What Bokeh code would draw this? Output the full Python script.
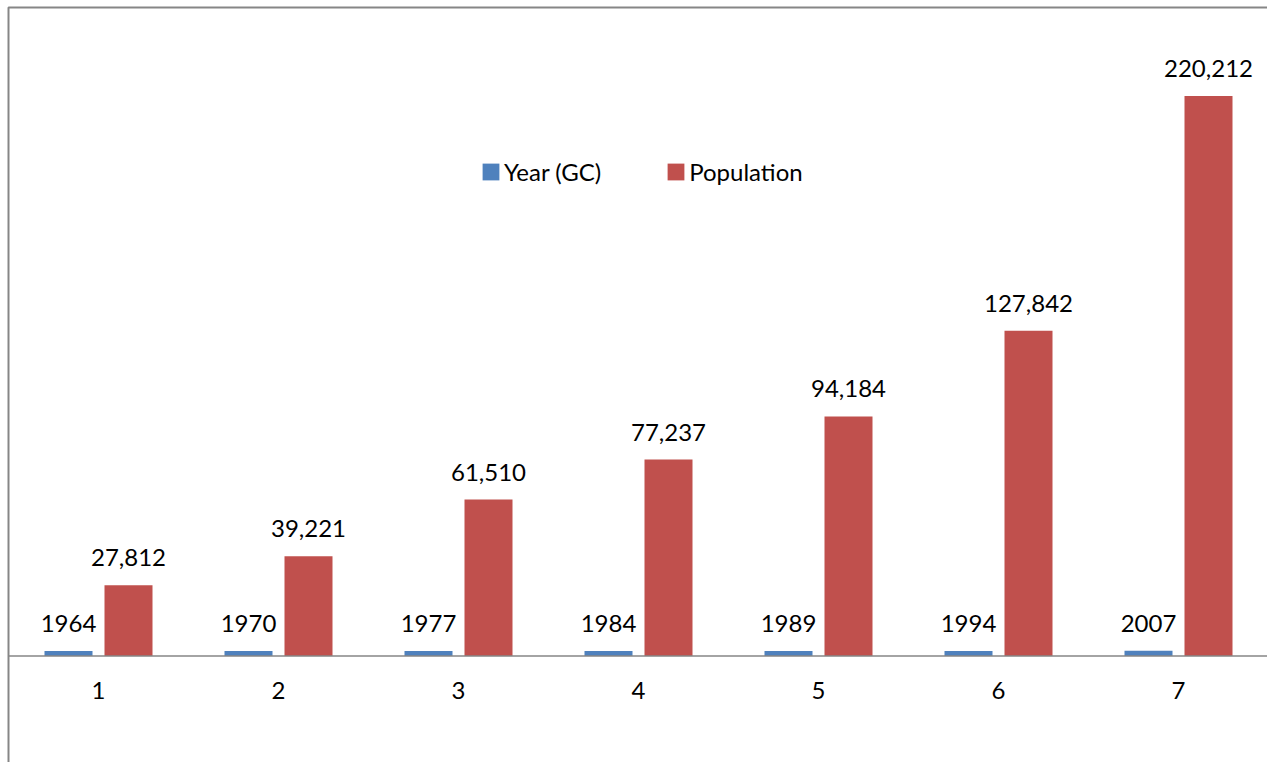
import numpy as np
from bokeh.plotting import figure
from bokeh.models import ColumnDataSource, LabelSet, Legend, LegendItem, Range1d
from bokeh.core.properties import value
from bokeh.embed import file_html
from bokeh.resources import INLINE

# Data
categories = ["1", "2", "3", "4", "5", "6", "7"]
years = [1964, 1970, 1977, 1984, 1989, 1994, 2007]
population = [27812, 39221, 61510, 77237, 94184, 127842, 220212]

BLUE = "#4F81BD"
RED = "#C0504D"
FRAME_GRAY = "#868686"
FONT = "Lato"
FONT_SIZE = "24px"

pos = np.arange(1, len(categories) + 1, dtype=float)
offset = 1.0 / 6.0
bar_w = 48.0 / 180.0

src = ColumnDataSource(dict(
    cat=categories,
    x=pos,
    x_year=pos - offset,
    x_pop=pos + offset,
    year=years,
    pop=population,
    year_txt=[str(v) for v in years],
    pop_txt=[f"{v:,}" for v in population],
    zero=[0] * len(categories),
))

x_start, x_end = 82.0 / 180.0, (1267.0 + 82.0) / 180.0
y_start, y_end = -41900, 257750

p = figure(width=1267, height=762, output_backend="svg", toolbar_location=None,
           x_range=Range1d(x_start, x_end), y_range=Range1d(y_start, y_end),
           min_border=0, x_axis_type=None, y_axis_type=None)
p.grid.visible = False
p.outline_line_color = None
p.background_fill_color = "white"
p.border_fill_color = "white"

r_year = p.vbar(x="x_year", top="year", width=bar_w, source=src,
                fill_color=BLUE, line_color=None)
r_pop = p.vbar(x="x_pop", top="pop", width=bar_w, source=src,
               fill_color=RED, line_color=None)

# Chart border (left and top edges) and category axis line
top_edge = 255000
p.line(x=[0.5, 0.5, x_end], y=[y_start, top_edge, top_edge],
       line_color=FRAME_GRAY, line_width=2)
p.line(x=[0.5, x_end], y=[0, 0], line_color=FRAME_GRAY, line_width=1.5)

label_style = dict(text_font=value(FONT), text_font_size=value(FONT_SIZE),
                   text_color="black", text_align="center",
                   text_baseline="alphabetic")

p.add_layout(LabelSet(x="x_year", y="year", text="year_txt", y_offset=19,
                      source=src, **label_style))
p.add_layout(LabelSet(x="x_pop", y="pop", text="pop_txt", y_offset=19,
                      source=src, **label_style))
p.add_layout(LabelSet(x="x", y="zero", text="cat", y_offset=-43,
                      source=src, **label_style))

legend = Legend(items=[LegendItem(label="Year (GC)", renderers=[r_year]),
                       LegendItem(label="Population", renderers=[r_pop])],
                orientation="horizontal", location=(480, 576),
                glyph_width=21, glyph_height=21, label_standoff=3, spacing=64,
                padding=0, margin=0, border_line_color=None,
                background_fill_alpha=0,
                label_text_font=FONT, label_text_font_size=FONT_SIZE,
                label_text_color="black")
p.add_layout(legend, "center")

open("out.html", "w").write(file_html(p, INLINE))
